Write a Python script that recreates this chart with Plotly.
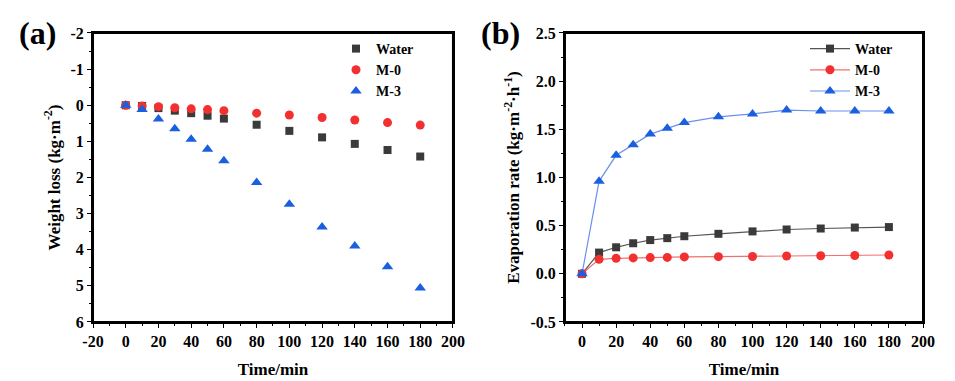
import plotly.graph_objects as go

time = [0, 10, 20, 30, 40, 50, 60, 80, 100, 120, 140, 160, 180]

# (a) Weight loss (kg·m-2)
loss_water = [0, 0.02, 0.08, 0.15, 0.22, 0.29, 0.37, 0.54, 0.71, 0.89, 1.07, 1.24, 1.42]
loss_m0 = [0, 0.02, 0.04, 0.07, 0.10, 0.12, 0.15, 0.22, 0.27, 0.34, 0.41, 0.48, 0.55]
loss_m3 = [0, 0.12, 0.38, 0.65, 0.94, 1.22, 1.54, 2.14, 2.74, 3.37, 3.9, 4.47, 5.06]

# (b) Evaporation rate (kg·m-2·h-1)
rate_water = [0, 0.22, 0.275, 0.317, 0.35, 0.37, 0.39, 0.415, 0.44, 0.46, 0.47, 0.48, 0.485]
rate_m0 = [0, 0.15, 0.16, 0.165, 0.168, 0.17, 0.175, 0.178, 0.18, 0.185, 0.187, 0.19, 0.195]
rate_m3 = [0, 0.96, 1.23, 1.34, 1.45, 1.51, 1.57, 1.63, 1.66, 1.70, 1.69, 1.69, 1.69]

series_names = ["Water", "M-0", "M-3"]

# tick labels
xa_ticks = [-20, 0, 20, 40, 60, 80, 100, 120, 140, 160, 180, 200]
xa_labels = ["-20", "0", "20", "40", "60", "80", "100", "120", "140", "160", "180", "200"]
ya_ticks = [-2, -1, 0, 1, 2, 3, 4, 5, 6]
ya_labels = ["-2", "-1", "0", "1", "2", "3", "4", "5", "6"]
xb_ticks = [0, 20, 40, 60, 80, 100, 120, 140, 160, 180, 200]
xb_labels = ["0", "20", "40", "60", "80", "100", "120", "140", "160", "180", "200"]
yb_ticks = [-0.5, 0, 0.5, 1.0, 1.5, 2.0, 2.5]
yb_labels = ["-0.5", "0.0", "0.5", "1.0", "1.5", "2.0", "2.5"]

FONT = "Liberation Serif"
C_GRAY = "#3a3a3a"
C_RED = "#f23030"
C_BLUE = "#1a5fe0"


def bold(lst):
    return ["<b>%s</b>" % s for s in lst]


fig = go.Figure()

mk = [dict(symbol="square", size=8, color=C_GRAY),
      dict(symbol="circle", size=9, color=C_RED),
      dict(symbol="triangle-up", size=10, color=C_BLUE)]

for name, ys, m in zip(series_names, [loss_water, loss_m0, loss_m3], mk):
    fig.add_trace(go.Scatter(x=time, y=ys, mode="markers", name="<b>%s</b>" % name, marker=m,
                             xaxis="x", yaxis="y", legend="legend"))

line_cols = ["#555555", "#f07070", "#6a90ee"]
for name, ys, m, lc in zip(series_names, [rate_water, rate_m0, rate_m3], mk, line_cols):
    fig.add_trace(go.Scatter(x=time, y=ys, mode="lines+markers", name="<b>%s</b>" % name, marker=m,
                             line=dict(color=lc, width=1.2),
                             xaxis="x2", yaxis="y2", legend="legend2"))

tickfont = dict(family=FONT, size=16, color="black")
titlefont = dict(family=FONT, size=17, color="black")


def ax(**kw):
    d = dict(showline=True, linecolor="black", linewidth=2, mirror=True,
             ticks="outside", ticklen=4, tickcolor="black",
             gridcolor="white", zerolinecolor="white",
             tickfont=tickfont, tickmode="array")
    d.update(kw)
    return d


# frame around each plotting area, in axis-domain units
frames = [dict(type="rect", xref=xr + " domain", yref=yr + " domain", x0=0, x1=1, y0=0, y1=1,
               line=dict(color="black", width=2), fillcolor="rgba(0,0,0,0)", layer="above")
          for xr, yr in [("x", "y"), ("x2", "y2")]]

fig.update_layout(
    width=955, height=381,
    margin=dict(l=0, r=0, t=0, b=0, autoexpand=False),
    font=dict(family=FONT, color="black"),
    paper_bgcolor="white", plot_bgcolor="white",
    shapes=frames,
    xaxis=ax(domain=[0.0974, 0.4743], range=[-20, 200],
             tickvals=xa_ticks, ticktext=bold(xa_labels),
             minor=dict(ticks="outside", ticklen=2, tickvals=list(range(-10, 200, 20)), tickcolor="black"),
             title=dict(text="<b>Time/min</b>", font=titlefont, standoff=14), anchor="y"),
    yaxis=ax(domain=[0.155, 0.9134], range=[6, -2],
             tickvals=ya_ticks, ticktext=bold(ya_labels),
             minor=dict(ticks="outside", ticklen=2, tickvals=[-1.5, -0.5, 0.5, 1.5, 2.5, 3.5, 4.5, 5.5], tickcolor="black"),
             title=dict(text="<b>Weight loss (kg·m<sup>-2</sup>)</b>", font=titlefont, standoff=6),
             anchor="x"),
    xaxis2=ax(domain=[0.5916, 0.9665], range=[-10, 200],
              tickvals=xb_ticks, ticktext=bold(xb_labels),
              minor=dict(ticks="outside", ticklen=2, tickvals=list(range(-10, 200, 20)), tickcolor="black"),
              title=dict(text="<b>Time/min</b>", font=titlefont, standoff=14), anchor="y2"),
    yaxis2=ax(domain=[0.155, 0.9134], range=[-0.5, 2.5],
              tickvals=yb_ticks, ticktext=bold(yb_labels),
              minor=dict(ticks="outside", ticklen=2, tickvals=[-0.25, 0.25, 0.75, 1.25, 1.75, 2.25], tickcolor="black"),
              title=dict(text="<b>Evaporation rate (kg·m<sup>-2</sup>·h<sup>-1</sup>)</b>", font=titlefont, standoff=6),
              anchor="x2"),
    legend=dict(x=336 / 955, y=1 - 33 / 381, xanchor="left", yanchor="top",
                font=dict(family=FONT, size=14, color="black"),
                bgcolor="rgba(0,0,0,0)", tracegroupgap=0),
    legend2=dict(x=805 / 955, y=1 - 33 / 381, xanchor="left", yanchor="top",
                 font=dict(family=FONT, size=14, color="black"),
                 bgcolor="rgba(0,0,0,0)", tracegroupgap=0, itemwidth=40),
    annotations=[
        dict(text="<b>(a)</b>", x=37 / 955, y=1 - 33 / 381, xref="paper", yref="paper",
             xanchor="center", yanchor="middle",
             showarrow=False, font=dict(family=FONT, size=32, color="black")),
        dict(text="<b>(b)</b>", x=500 / 955, y=1 - 33 / 381, xref="paper", yref="paper",
             xanchor="center", yanchor="middle",
             showarrow=False, font=dict(family=FONT, size=32, color="black")),
    ],
)

fig.write_html("out.html", config={"displayModeBar": False},
               post_script="document.body.style.margin='0';document.body.style.overflow='hidden';")
